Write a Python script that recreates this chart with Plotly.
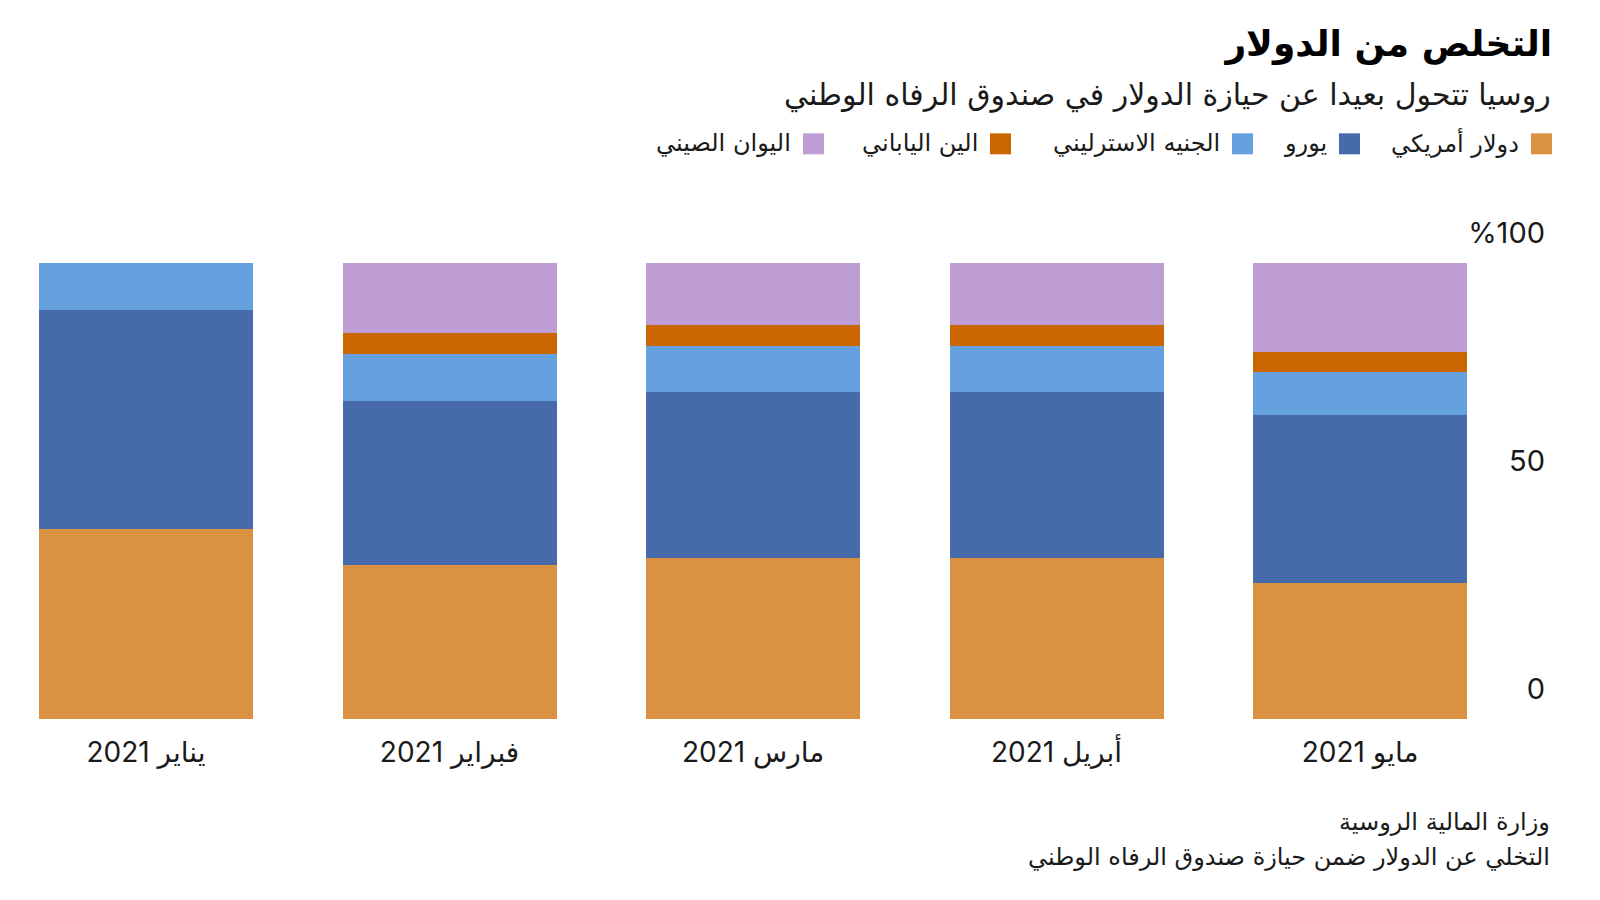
import plotly.graph_objects as go

months = ["يناير 2021", "فبراير 2021", "مارس 2021", "أبريل 2021", "مايو 2021"]

usd = [41.8, 33.7, 35.4, 35.4, 29.9]
eur = [47.9, 36.1, 36.3, 36.3, 36.7]
gbp = [10.3, 10.3, 10.2, 10.2, 9.5]
jpy = [0, 4.6, 4.5, 4.5, 4.5]
cny = [0, 15.3, 13.6, 13.6, 19.4]

series_names = ["دولار أمريكي", "يورو", "الجنيه الاسترليني", "الين الياباني", "اليوان الصيني"]
series_values = [usd, eur, gbp, jpy, cny]
colors = ["#DA9142", "#476AAA", "#65A0DF", "#CC6600", "#BF9ED6"]

y_ticks = [0, 50, 100]
y_ticktext = ["0", "50", "%100"]

title = "التخلص من الدولار"
subtitle = "روسيا تتحول بعيدا عن حيازة الدولار في صندوق الرفاه الوطني"
source_lines = ["وزارة المالية الروسية", "التخلي عن الدولار ضمن حيازة صندوق الرفاه الوطني"]

# the page body adds an 8px margin, so screen positions are 8px off figure ones
OFF = 8
W, H = 1600, 900
Y_TOP = 122  # headroom so the raised "%100" label stays inside the plot
UNIT = 4.56  # pixels per percentage point
MB = 189
ML, MR = 0, 60
PH = Y_TOP * UNIT
MT = H - MB - PH
PW = W - ML - MR

FONT = "DejaVu Sans"
NUMFONT = "Inter, DejaVu Sans"
INK = "#1a1a1a"


def px(x):
    return (x - OFF - ML) / PW


def py(y):
    return (H - MB - (y - OFF)) / PH


fig = go.Figure()
for name, vals, col in zip(series_names, series_values, colors):
    fig.add_trace(
        go.Bar(
            x=list(range(len(months))),
            y=vals,
            name=name,
            marker=dict(color=col, line=dict(width=0)),
            width=0.705,
            showlegend=False,
        )
    )

fig.update_layout(
    width=W,
    height=H,
    barmode="stack",
    paper_bgcolor="white",
    plot_bgcolor="white",
    margin=dict(l=ML, r=MR, t=MT, b=MB),
    font=dict(family=FONT, color=INK),
    title=dict(
        text=f"<b>{title}</b>",
        x=(1552 - OFF) / W,
        xanchor="right",
        xref="container",
        y=1 - (43 - OFF) / H,
        yanchor="middle",
        font=dict(size=36, family=FONT, color="#000000"),
    ),
    xaxis=dict(
        tickvals=list(range(len(months))),
        ticktext=months,
        range=[-0.4547, 4.619],
        showgrid=False,
        zeroline=False,
        showline=False,
        ticks="",
        ticklabelstandoff=14,
        tickfont=dict(size=28, family=NUMFONT, color=INK),
        fixedrange=True,
    ),
    yaxis=dict(
        range=[0, Y_TOP],
        tickvals=y_ticks,
        ticktext=y_ticktext,
        side="right",
        ticklabelposition="inside",
        ticklabelshift=-30,
        showgrid=False,
        zeroline=False,
        showline=False,
        ticks="",
        tickfont=dict(size=29, family=NUMFONT, color=INK),
        fixedrange=True,
    ),
)

annotations = [
    dict(
        text=subtitle,
        x=px(1553),
        y=py(95),
        xanchor="right",
        yanchor="middle",
        font=dict(size=30, color=INK),
    )
]

# legend, drawn right-to-left with the swatch on the right of each label
swatch_right = [1552, 1360, 1253, 1011, 824]
shapes = []
for name, col, xr in zip(series_names, colors, swatch_right):
    shapes.append(
        dict(
            type="rect",
            xref="paper",
            yref="paper",
            x0=px(xr - 21),
            x1=px(xr),
            y0=py(154),
            y1=py(133),
            fillcolor=col,
            line=dict(width=0),
        )
    )
    annotations.append(
        dict(
            text=name,
            x=px(xr - 31),
            y=py(143),
            xanchor="right",
            yanchor="middle",
            font=dict(size=24, color=INK),
        )
    )

for i, line in enumerate(source_lines):
    annotations.append(
        dict(
            text=line,
            x=px(1552),
            y=py(822 + 35 * i),
            xanchor="right",
            yanchor="middle",
            font=dict(size=24, color=INK),
        )
    )

for a in annotations:
    a.update(xref="paper", yref="paper", showarrow=False)

fig.update_layout(annotations=annotations, shapes=shapes)

fig.write_html("out.html")
